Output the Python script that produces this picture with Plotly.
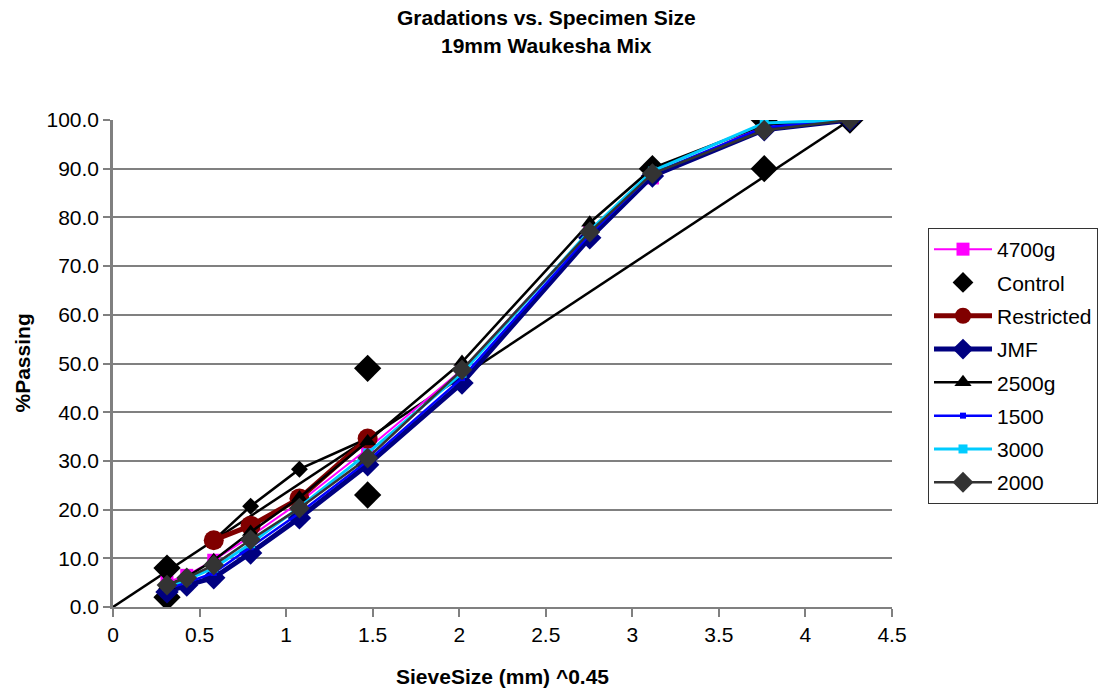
import plotly.graph_objects as go

sieve_x = [0.312, 0.426, 0.582, 0.795, 1.077, 1.471, 2.016, 2.754, 3.116, 3.762, 4.257]

pass_4700g = [5.1, 6.5, 9.6, 14.5, 21.5, 32.5, 48.7, 77.0, 88.1, 99.0, 100.0]
pass_jmf = [3.1, 4.5, 6.0, 11.1, 18.3, 29.2, 46.0, 75.8, 88.5, 98.0, 100.0]
pass_2500g = [4.5, 6.2, 9.6, 15.4, 22.5, 34.0, 50.3, 78.9, 90.1, 99.0, 100.0]
pass_1500 = [3.8, 5.0, 7.0, 12.3, 19.3, 30.0, 47.0, 76.5, 89.0, 98.5, 100.0]
pass_3000 = [4.3, 5.6, 8.0, 13.0, 20.5, 31.6, 48.0, 77.3, 89.5, 99.4, 100.0]
pass_2000 = [4.5, 6.0, 8.6, 13.8, 20.3, 30.6, 48.7, 77.0, 89.0, 97.9, 100.0]

control_x = [0.312, 0.312, 1.471, 1.471, 3.116, 3.762, 3.762, 4.257]
control_y = [2.0, 8.0, 23.0, 49.0, 90.0, 90.0, 100.0, 100.0]

restricted_x = [0.582, 0.795, 1.077, 1.471]
restricted_low = [13.7, 16.7, 22.3, 34.6]
restricted_high = [13.7, 20.7, 28.3, 34.6]

maxdens_x = [0.0, 4.257]
maxdens_y = [0.0, 100.0]

x_ticks = [0, 0.5, 1, 1.5, 2, 2.5, 3, 3.5, 4, 4.5]
x_tick_labels = ["0", "0.5", "1", "1.5", "2", "2.5", "3", "3.5", "4", "4.5"]
y_ticks = [0, 10, 20, 30, 40, 50, 60, 70, 80, 90, 100]

FONT = "Liberation Sans, Arial, sans-serif"

fig = go.Figure()

# unlabeled reference lines
fig.add_trace(go.Scatter(x=maxdens_x, y=maxdens_y, mode="lines",
                         line=dict(color="black", width=2.5), showlegend=False, hoverinfo="skip"))
fig.add_trace(go.Scatter(x=restricted_x, y=restricted_high, mode="lines+markers",
                         line=dict(color="black", width=2.5),
                         marker=dict(symbol="diamond", size=13, color="black"),
                         showlegend=False))

fig.add_trace(go.Scatter(x=sieve_x, y=pass_4700g, name="4700g", mode="lines+markers", legendgroup="a",
                         line=dict(color="#FF00FF", width=2),
                         marker=dict(symbol="square", size=13, color="#FF00FF")))
fig.add_trace(go.Scatter(x=control_x, y=control_y, name="Control", mode="markers", legendgroup="b",
                         marker=dict(symbol="diamond", size=21, color="black")))
fig.add_trace(go.Scatter(x=restricted_x, y=restricted_low, name="Restricted", mode="lines+markers",
                         legendgroup="c",
                         line=dict(color="#800000", width=5),
                         marker=dict(symbol="circle", size=20, color="#800000")))
fig.add_trace(go.Scatter(x=sieve_x, y=pass_jmf, name="JMF", mode="lines+markers", legendgroup="d",
                         line=dict(color="#000080", width=5),
                         marker=dict(symbol="diamond", size=18, color="#000080")))
fig.add_trace(go.Scatter(x=sieve_x, y=pass_2500g, name="2500g", mode="lines+markers", legendgroup="e",
                         line=dict(color="black", width=2.5),
                         marker=dict(symbol="triangle-up", size=15, color="black")))
fig.add_trace(go.Scatter(x=sieve_x, y=pass_1500, name="1500", mode="lines+markers", legendgroup="f",
                         line=dict(color="#0000FF", width=2.5),
                         marker=dict(symbol="square", size=6, color="#0000FF")))
fig.add_trace(go.Scatter(x=sieve_x, y=pass_3000, name="3000", mode="lines+markers", legendgroup="g",
                         line=dict(color="#00CCFF", width=3),
                         marker=dict(symbol="square", size=9, color="#00CCFF")))
fig.add_trace(go.Scatter(x=sieve_x, y=pass_2000, name="2000", mode="lines+markers", legendgroup="h",
                         line=dict(color="#333333", width=2.5),
                         marker=dict(symbol="diamond", size=16, color="#333333")))

annotations = [
    dict(text="<b>Gradations vs. Specimen Size</b>", xref="paper", yref="paper",
         x=(546 - 113) / 779, y=(607 - 18) / 487, xanchor="center", yanchor="middle",
         showarrow=False, font=dict(size=21)),
    dict(text="<b>19mm Waukesha Mix</b>", xref="paper", yref="paper",
         x=(546 - 113) / 779, y=(607 - 45) / 487, xanchor="center", yanchor="middle",
         showarrow=False, font=dict(size=21)),
    dict(text="<b>SieveSize (mm) ^0.45</b>", xref="paper", yref="paper",
         x=(502 - 113) / 779, y=(607 - 676) / 487, xanchor="center", yanchor="middle",
         showarrow=False, font=dict(size=21)),
    dict(text="<b>%Passing</b>", xref="paper", yref="paper", textangle=-90,
         x=(22 - 113) / 779, y=0.5, xanchor="center", yanchor="middle",
         showarrow=False, font=dict(size=21)),
]

fig.update_layout(
    width=1099, height=690,
    margin=dict(l=113, r=207, t=120, b=83, autoexpand=False),
    paper_bgcolor="white", plot_bgcolor="white",
    font=dict(family=FONT, size=21, color="black"),
    annotations=annotations,
    showlegend=True,
    legend=dict(x=(928 - 113) / 779, xanchor="left", y=(607 - 228) / 487, yanchor="top",
                bordercolor="#333333", borderwidth=1, bgcolor="white",
                font=dict(size=21), tracegroupgap=3, itemwidth=58),
)
fig.update_xaxes(range=[0, 4.5], tickvals=x_ticks, ticktext=x_tick_labels,
                 showgrid=False, zeroline=False, showline=True, linecolor="#808080", linewidth=2,
                 ticks="outside", ticklen=8, tickcolor="#808080", tickwidth=1.5)
fig.update_yaxes(range=[0, 100], tickvals=y_ticks, tickformat=".1f",
                 showgrid=True, gridcolor="#808080", gridwidth=1.5, zeroline=False,
                 showline=True, linecolor="#808080", linewidth=2.5,
                 ticks="outside", ticklen=7, tickcolor="#808080", tickwidth=1.5)

fig.write_html("out.html")
